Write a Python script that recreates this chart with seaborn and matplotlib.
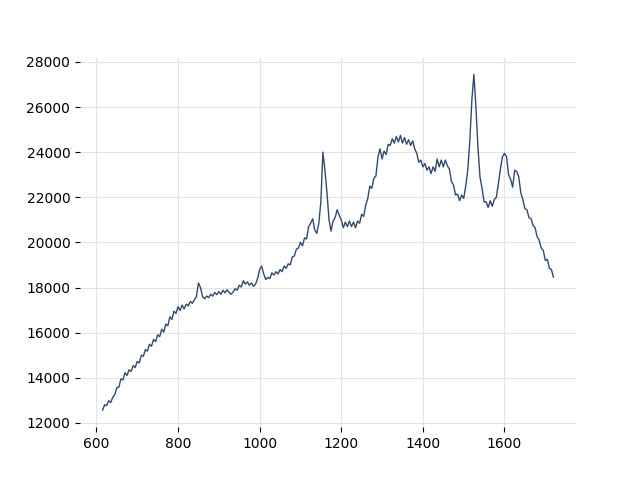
import numpy as np
import pandas as pd
import matplotlib
matplotlib.use("Agg")
import matplotlib.pyplot as plt
import seaborn as sns

wavenumber = np.arange(615, 1725, 5)
intensity = [
    12550, 12800, 12760, 12980, 12900, 13130, 13250, 13560, 13580, 13950,
    13900, 14220, 14100, 14350, 14280, 14530, 14450, 14720, 14650, 15000,
    14950, 15250, 15180, 15480, 15400, 15700, 15600, 15900, 15820, 16150,
    16020, 16380, 16300, 16700, 16580, 16950, 16850, 17150, 16980, 17220,
    17050, 17260, 17180, 17380, 17300, 17450, 17600, 18200, 18000, 17600,
    17500, 17620, 17550, 17700, 17620, 17780, 17680, 17820, 17700, 17880,
    17760, 17900, 17780, 17700, 17800, 17950, 17880, 18100, 18020, 18300,
    18150, 18250, 18100, 18200, 18050, 18150, 18400, 18800, 18950, 18600,
    18350, 18450, 18400, 18650, 18550, 18700, 18600, 18800, 18700, 18950,
    18850, 19050, 19000, 19350, 19400, 19700, 19750,
    20000, 19850, 20200, 20150, 20700, 20850, 21050, 20550, 20400, 20850,
    21800, 24000, 23200, 22200, 21000, 20500, 20950, 21100, 21450, 21200,
    21000, 20650, 20900, 20700, 20950, 20700, 20900, 20650, 20950, 20850,
    21250, 21150, 21650, 21950, 22500, 22400, 22850, 22950, 23800, 24150,
    23700, 24050, 23900, 24350, 24300, 24600, 24400, 24700, 24450, 24750,
    24400, 24650, 24350, 24550, 24300, 24500, 24150, 23950, 23550, 23650,
    23350, 23500, 23200, 23350, 23050, 23350, 23150, 23700, 23350, 23650,
    23350, 23650, 23400, 23250, 22700, 22550, 22100, 22150, 21850, 22100,
    21950, 22500, 23200, 24500, 26300, 27450, 26000, 24200, 22900, 22400,
    21800, 21800, 21550, 21850, 21600, 21900, 22000, 22600, 23250, 23800,
    23950, 23800, 23000, 22800, 22450, 23200, 23150, 22900, 22200, 21900,
    21500, 21450, 21100, 21050, 20750, 20650, 20250, 20100, 19750, 19650,
    19200, 19250, 18850, 18800, 18450,
]
assert len(intensity) == len(wavenumber), (len(intensity), len(wavenumber))

df = pd.DataFrame({"wavenumber": wavenumber, "intensity": intensity})

sns.set_style("whitegrid", {
    "axes.edgecolor": "white",
    "grid.color": "#e3e3e3",
    "xtick.bottom": True,
    "ytick.left": True,
    "xtick.color": "black",
    "ytick.color": "black",
    "axes.labelcolor": "black",
})
plt.rcParams["font.family"] = ["DejaVu Sans"]

fig, ax = plt.subplots(figsize=(6.4, 4.8), dpi=100)
sns.lineplot(data=df, x="wavenumber", y="intensity", ax=ax,
             color="#2f4b6e", linewidth=1.0)
ax.set_xlabel("")
ax.set_ylabel("")
ax.set_yticks(np.arange(12000, 28001, 2000))
ax.set_xticks(np.arange(600, 1601, 200))
ax.tick_params(axis="both", labelsize=10, length=3.5, width=0.8)
sns.despine(ax=ax, left=True, bottom=True)
fig.savefig("out.png", dpi=100)
